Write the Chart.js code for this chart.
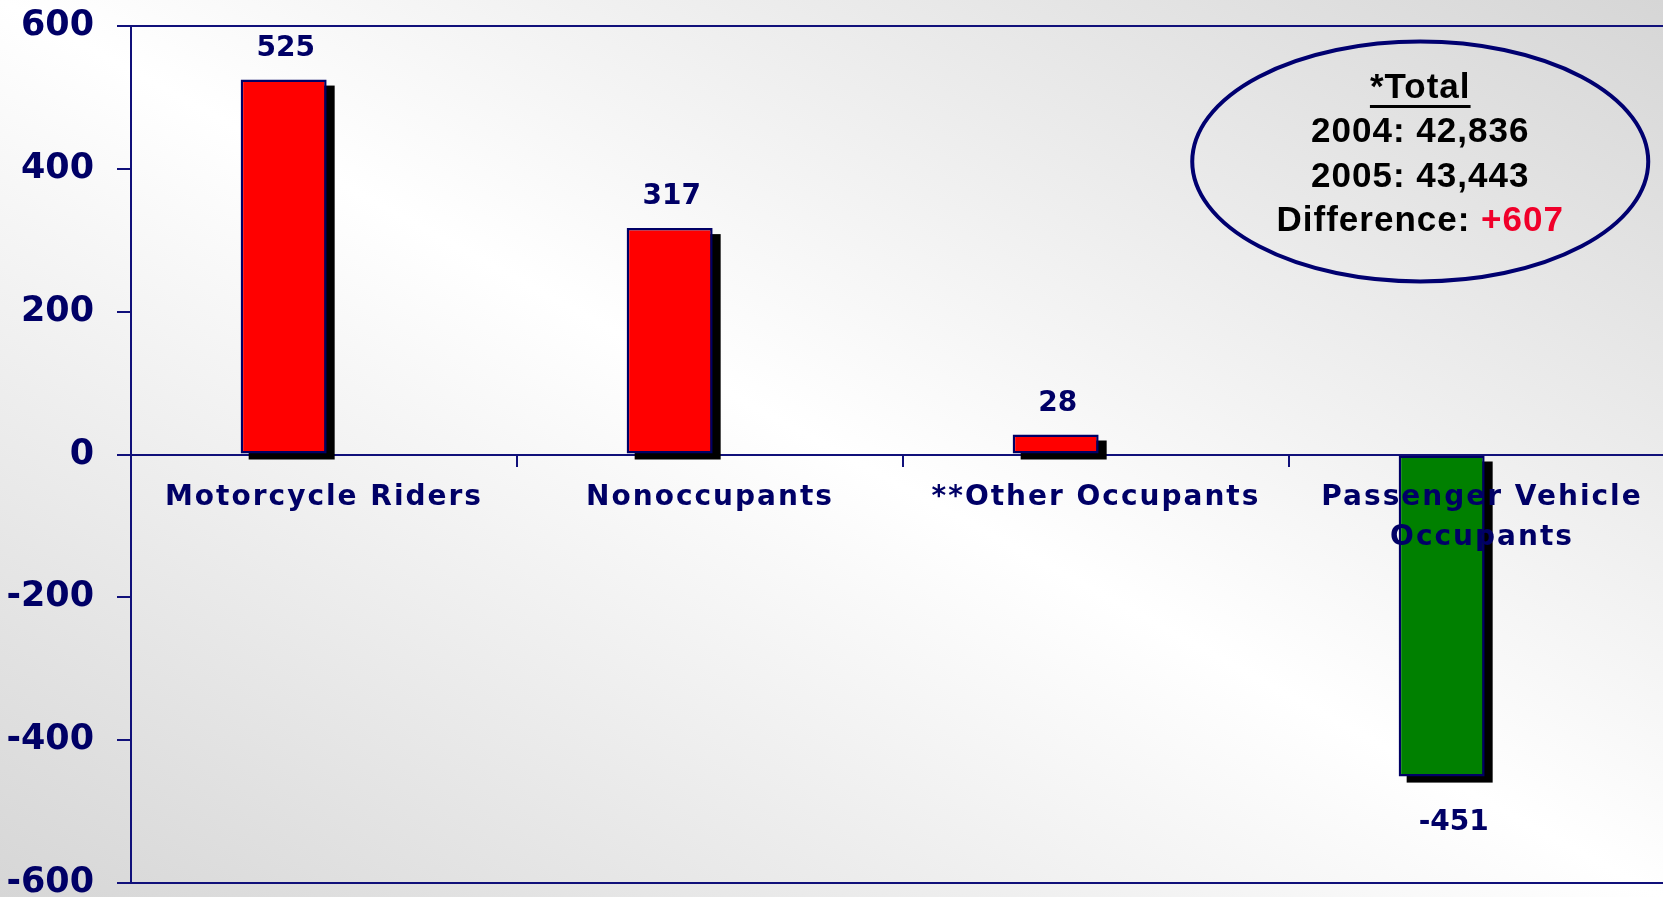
<!DOCTYPE html>
<html>
<head>
<meta charset="utf-8">
<script src="https://cdn.jsdelivr.net/npm/chart.js@4"></script>
<style>
    html, body {
        margin: 0;
        padding: 0;
        width: 100%;
        height: 100%;
        overflow: hidden;
    }
    body {
        background: linear-gradient(to top right, #d6d6d6 0%, #ffffff 50%, #d6d6d6 100%);
    }
    .chart-container {
        position: relative;
        width: 1675px;
        height: 897px;
    }
</style>
</head>
<body>
<div class="chart-container">
    <canvas id="mainChart"></canvas>
</div>
<script>
// Chart data
const categories = ['Motorcycle Riders', 'Nonoccupants', '**Other Occupants', ['Passenger Vehicle', 'Occupants']];
const changes = [525, 317, 28, -451];
const spacer = [null, null, null, null];
const yMin = -600;
const yMax = 600;
const yStep = 200;

// Totals box text
const totalTitle = '*Total';
const totalLines = ['2004: 42,836', '2005: 43,443'];
const diffLabel = 'Difference: ';
const diffValue = '+607';

const NAVY = '#000066';
const LINE = '#10107a';
const AXIS_FONT = '"DejaVu Sans", Verdana, sans-serif';
const BOX_FONT = '"Liberation Sans", Arial, sans-serif';

// Red for increases, green for decreases
function barColor(value) {
    return value >= 0 ? '#ff0000' : '#008000';
}

// Drop shadow behind each bar
const shadowPlugin = {
    id: 'barShadow',
    beforeDraw(chart) {
        chart.ctx.letterSpacing = '0px';
    },
    beforeDatasetsDraw(chart) {
        const ctx = chart.ctx;
        const meta = chart.getDatasetMeta(0);
        ctx.save();
        ctx.fillStyle = '#000000';
        meta.data.forEach(bar => {
            const p = bar.getProps(['x', 'y', 'base', 'width'], true);
            const top = Math.min(p.y, p.base);
            const h = Math.abs(p.base - p.y);
            ctx.fillRect(p.x - p.width / 2 + 8, top + 6, p.width, h);
        });
        ctx.restore();
    }
};

// Value labels above / below bars
const valueLabelPlugin = {
    id: 'valueLabels',
    afterDatasetsDraw(chart) {
        const ctx = chart.ctx;
        const meta = chart.getDatasetMeta(0);
        ctx.save();
        ctx.font = 'bold 28px ' + AXIS_FONT;
        ctx.fillStyle = NAVY;
        ctx.textAlign = 'center';
        ctx.textBaseline = 'middle';
        meta.data.forEach((bar, i) => {
            const value = changes[i];
            const p = bar.getProps(['x', 'y'], true);
            if (value >= 0) {
                ctx.fillText(String(value), p.x + 2, p.y - 31);
            } else {
                ctx.fillText(String(value), p.x + 12, p.y + 46);
            }
        });
        ctx.restore();
        // category labels are drawn after this, with wider spacing
        ctx.letterSpacing = '2px';
    }
};

// Ellipse with the totals
const totalsPlugin = {
    id: 'totalsBox',
    afterDraw(chart) {
        const ctx = chart.ctx;
        const area = chart.chartArea;
        const cx = area.left + (area.right - area.left) * 0.835;
        const cy = area.top + 135.5;

        ctx.save();
        ctx.letterSpacing = '1px';
        ctx.beginPath();
        ctx.ellipse(cx, cy, 228, 120, 0, 0, Math.PI * 2);
        ctx.lineWidth = 4;
        ctx.strokeStyle = '#000070';
        ctx.stroke();

        ctx.font = 'bold 35px ' + BOX_FONT;
        ctx.fillStyle = '#000000';
        ctx.textAlign = 'center';
        ctx.textBaseline = 'middle';

        // Title, underlined
        let y = cy - 73.5;
        ctx.fillText(totalTitle, cx, y);
        const tw = ctx.measureText(totalTitle).width;
        ctx.fillRect(cx - tw / 2, y + 17, tw, 3);

        totalLines.forEach(line => {
            y += 44.5;
            ctx.fillText(line, cx, y);
        });

        // Difference line with red value
        y += 44;
        const w1 = ctx.measureText(diffLabel).width;
        const w2 = ctx.measureText(diffValue).width;
        const x0 = cx - (w1 + w2) / 2;
        ctx.textAlign = 'left';
        ctx.fillText(diffLabel, x0, y);
        ctx.fillStyle = '#f0002a';
        ctx.fillText(diffValue, x0 + w1, y);
        ctx.restore();
        ctx.letterSpacing = '0px';
    }
};

function createChart() {
    const ctx = document.getElementById('mainChart').getContext('2d');

    new Chart(ctx, {
        type: 'bar',
        data: {
            labels: categories,
            datasets: [
                {
                    label: 'Change',
                    data: changes,
                    backgroundColor: changes.map(barColor),
                    borderColor: NAVY,
                    borderWidth: 2.5,
                    borderSkipped: false,
                    categoryPercentage: 0.418,
                    barPercentage: 1.066
                },
                {
                    label: 'spacer',
                    data: spacer,
                    backgroundColor: 'transparent',
                    categoryPercentage: 0.418,
                    barPercentage: 1.066
                }
            ]
        },
        options: {
            responsive: true,
            maintainAspectRatio: false,
            animation: false,
            layout: {
                padding: { top: 26, bottom: 14, left: 0, right: 0 }
            },
            plugins: {
                legend: { display: false },
                tooltip: { enabled: false }
            },
            scales: {
                x: {
                    position: { y: 0 },
                    grid: {
                        drawOnChartArea: false,
                        color: LINE,
                        lineWidth: 2,
                        tickLength: 11
                    },
                    border: { color: LINE, width: 2 },
                    ticks: {
                        z: 1,
                        color: NAVY,
                        font: { family: AXIS_FONT, size: 28, weight: 'bold', lineHeight: 1.43 },
                        padding: 12,
                        maxRotation: 0,
                        autoSkip: false
                    }
                },
                y: {
                    min: yMin,
                    max: yMax,
                    afterFit(scale) {
                        scale.width = 131;
                        scale.paddingTop = 0;
                        scale.paddingBottom = 0;
                    },
                    grid: {
                        color: c => (c.tick && (c.tick.value === yMax || c.tick.value === yMin)) ? LINE : 'transparent',
                        tickColor: LINE,
                        lineWidth: 2,
                        tickLength: 14
                    },
                    border: { color: LINE, width: 2 },
                    ticks: {
                        stepSize: yStep,
                        color: NAVY,
                        font: { family: AXIS_FONT, size: 35, weight: 'bold' },
                        padding: 23
                    }
                }
            }
        },
        plugins: [shadowPlugin, valueLabelPlugin, totalsPlugin]
    });
}

document.addEventListener('DOMContentLoaded', createChart);
</script>
</body>
</html>
